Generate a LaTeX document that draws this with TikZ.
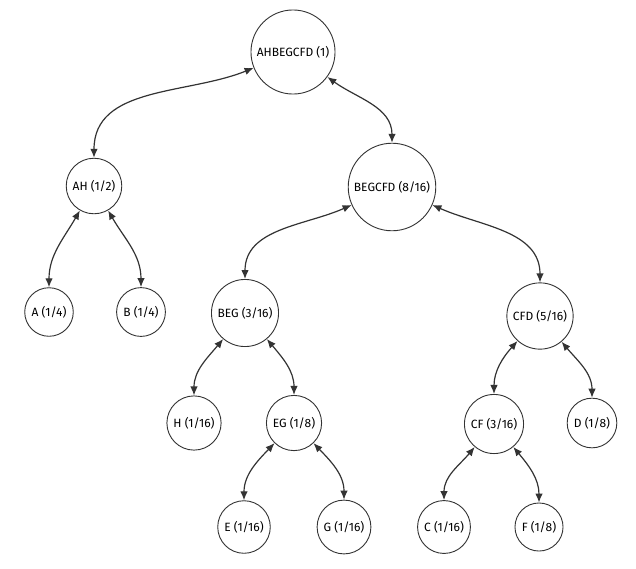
\documentclass[tikz,border=0pt]{standalone}
\usepackage{fontspec}
\setmainfont{Fira Sans}
\usetikzlibrary{arrows.meta}

\tikzset{
  nodo/.style={circle, draw=black!80, fill=white, line width=0.9pt,
    inner sep=4.5pt, font=\fontsize{12}{14}\selectfont},
  arista/.style={{Latex[length=9pt,width=7.5pt]}-{Latex[length=9pt,width=7.5pt]},
    draw=black!80, line width=1.2pt}
}

\begin{document}
\begin{tikzpicture}[x=1pt,y=-1pt]
    \useasboundingbox (0,0) rectangle (636,568);

    % Nodos
    \node[nodo] (AHBEGCFD) at (293,52) {AHBEGCFD (1)};
    \node[nodo] (AH) at (94,186) {AH (1/2)};
    \node[nodo] (BEGCFD) at (392,187) {BEGCFD (8/16)};
    \node[nodo] (A) at (49,312) {A (1/4)};
    \node[nodo] (B) at (141,312) {B (1/4)};
    \node[nodo] (BEG) at (245,313) {BEG (3/16)};
    \node[nodo] (CFD) at (540,316) {CFD (5/16)};
    \node[nodo] (H) at (194,423) {H (1/16)};
    \node[nodo] (EG) at (294,423) {EG (1/8)};
    \node[nodo] (CF) at (494,424) {CF (3/16)};
    \node[nodo] (D) at (592,423) {D (1/8)};
    \node[nodo] (E) at (244,527) {E (1/16)};
    \node[nodo] (G) at (344,527) {G (1/16)};
    \node[nodo] (C) at (444,527) {C (1/16)};
    \node[nodo] (F) at (539,527) {F (1/8)};

    % Aristas
    \draw[arista] (AHBEGCFD) to[out=202,in=90] (AH.north);
    \draw[arista] (AHBEGCFD) to[out=-36,in=90] (BEGCFD.north);
    \draw[arista] (AH) to[out=240,in=90] (A.north);
    \draw[arista] (AH) to[out=-60,in=90] (B.north);
    \draw[arista] (BEGCFD) to[out=204,in=90] (BEG.north);
    \draw[arista] (BEGCFD) to[out=-24,in=90] (CFD.north);
    \draw[arista] (BEG) to[out=230,in=90] (H.north);
    \draw[arista] (BEG) to[out=-50,in=90] (EG.north);
    \draw[arista] (EG) to[out=226,in=90] (E.north);
    \draw[arista] (EG) to[out=-46,in=90] (G.north);
    \draw[arista] (CFD) to[out=228,in=90] (CF.north);
    \draw[arista] (CFD) to[out=-50,in=90] (D.north);
    \draw[arista] (CF) to[out=230,in=90] (C.north);
    \draw[arista] (CF) to[out=-50,in=90] (F.north);
\end{tikzpicture}
\end{document}
